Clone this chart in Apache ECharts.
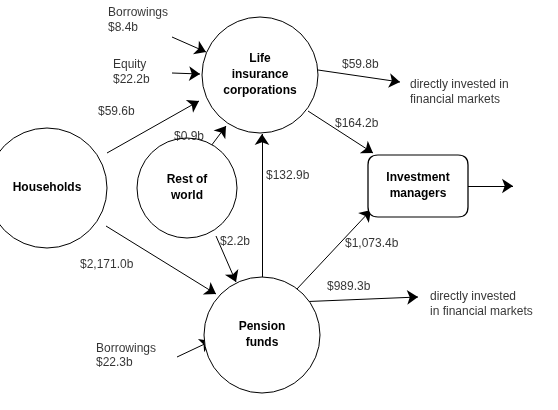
<!DOCTYPE html>
<html>
<head>
<meta charset="utf-8">
<script src="https://cdn.jsdelivr.net/npm/echarts@6/dist/echarts.min.js"></script>
<style>html,body{margin:0;padding:0;background:#fff}#chart{width:558px;height:410px}</style>
</head>
<body>
<div id="chart"></div>
<script>
// entities: name, centre x, centre y, size (px), symbol
const nodeNames = ['Life\ninsurance\ncorporations', 'Households', 'Rest of\nworld', 'Pension\nfunds', 'Investment\nmanagers'];
const nodePos = [[260, 75], [47, 188], [187, 188], [262, 335], [418, 186]];
const nodeSize = [116, 120, 100, 116, [100, 62]];
const nodeSymbol = ['circle', 'circle', 'circle', 'circle',
  'path://M10,0 L90,0 Q100,0 100,10 L100,52 Q100,62 90,62 L10,62 Q0,62 0,52 L0,10 Q0,0 10,0 Z'];

// flows: [from, to] and the value label
const flowLabels = ['$8.4b', '$22.2b', '$59.6b', '$0.9b', '$132.9b', '$59.8b', '$164.2b', '', '$2,171.0b', '$2.2b', '$1,073.4b', '$989.3b', '$22.3b'];
const flowCoords = [
  [[172, 37], [206, 52]],
  [[172, 73], [200, 74]],
  [[107, 153], [199, 101]],
  [[211, 146], [226, 126]],
  [[262, 277], [262, 134]],
  [[318, 70], [400, 82]],
  [[308, 111], [373, 153]],
  [[468, 186], [513, 186]],
  [[106, 226], [216, 294]],
  [[216, 236], [236, 282]],
  [[296, 290], [371, 210]],
  [[296, 302], [418, 297]],
  [[177, 357], [211, 341]]
];
const flowLabelPos = [[108, 28], [113, 80], [98, 112], [174, 137], [266, 176], [342, 65], [335, 124], [0, 0], [80, 265], [220, 242], [345, 244], [327, 287], [96, 363]];

// free text notes
const noteTexts = ['Borrowings', 'Equity', 'directly invested in\nfinancial markets', 'directly invested\nin financial markets', 'Borrowings'];
const notePos = [[108, 13], [113, 65], [410, 92], [430, 304], [96, 349]];

const nodeData = nodeNames.map((n, i) => ({
  value: nodePos[i], name: n, symbol: nodeSymbol[i], symbolSize: nodeSize[i]
}));
const flowLabelData = flowLabels.map((t, i) => ({ value: flowLabelPos[i], name: t })).filter(d => d.name);
const noteData = noteTexts.map((t, i) => ({ value: notePos[i], name: t }));

const textSeries = (data) => ({
  type: 'scatter', data: data, symbolSize: 0, silent: true, z: 10,
  label: { show: true, position: 'right', distance: 0, formatter: p => p.name,
    color: '#000', fontSize: 12, fontFamily: 'Liberation Sans, Arial', lineHeight: 15 }
});

const chart = echarts.init(document.getElementById('chart'));
chart.setOption({
  animation: false,
  grid: { left: 0, right: 0, top: 0, bottom: 0 },
  xAxis: { type: 'value', min: 0, max: 558, show: false },
  yAxis: { type: 'value', min: 0, max: 410, inverse: true, show: false },
  series: [
    {
      type: 'lines', coordinateSystem: 'cartesian2d', silent: true, z: 1,
      data: flowCoords.map(c => ({ coords: c })),
      symbol: ['none', 'arrow'], symbolSize: 11,
      lineStyle: { color: '#000', width: 1, opacity: 1 }
    },
    {
      type: 'scatter', data: nodeData, z: 3, silent: true,
      itemStyle: { color: '#fff', borderColor: '#000', borderWidth: 1, opacity: 1 },
      label: { show: true, position: 'inside', formatter: p => p.name, color: '#000',
        fontSize: 12, fontWeight: 'bold', fontFamily: 'Liberation Sans, Arial', lineHeight: 16 }
    },
    textSeries(flowLabelData),
    textSeries(noteData)
  ]
});
</script>
</body>
</html>
